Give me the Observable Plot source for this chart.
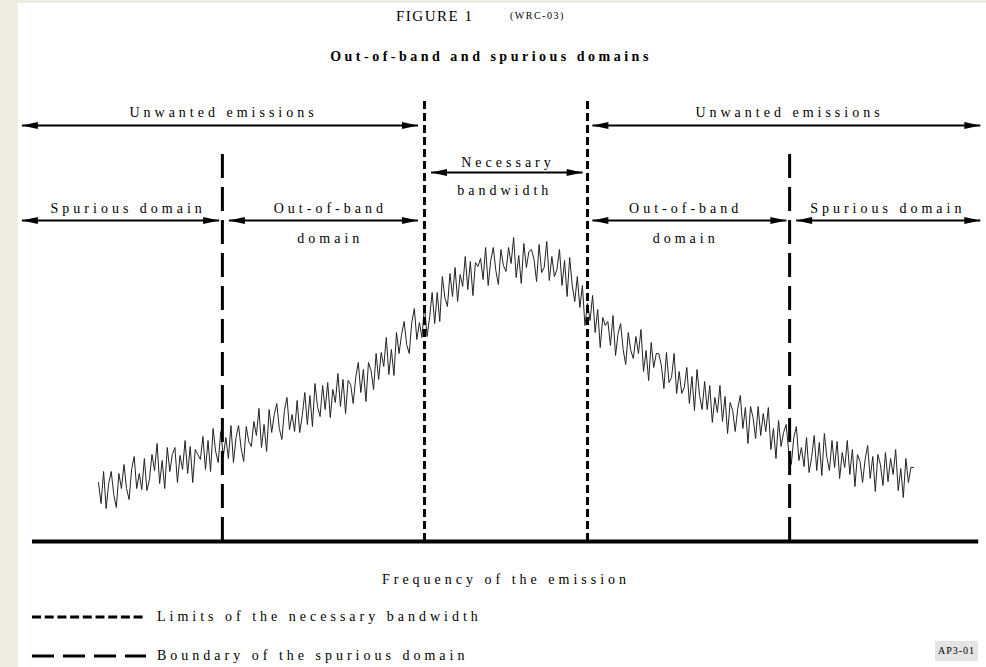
<!DOCTYPE html>
<html>
<head>
<meta charset="utf-8">
<script src="https://cdn.jsdelivr.net/npm/d3@7"></script>
<script src="https://cdn.jsdelivr.net/npm/@observablehq/plot@0.6"></script>
<style>
  html, body { margin: 0; padding: 0; }
  body { width: 986px; height: 667px; overflow: hidden; position: relative; background: #efece1;
         font-family: "Liberation Serif", "Times New Roman", serif; color: #000; }
  #panel { position: absolute; left: 18px; top: 3px; width: 968px; height: 664px; background: #fff; }
  .t { position: absolute; white-space: nowrap; line-height: 1; }
  #chart { position: absolute; left: 18px; top: 85px; }
  #chart svg text { letter-spacing: 4px; }
  .sw { position: absolute; left: 30px; }
  #code { position: absolute; left: 935px; top: 641px; width: 43px; height: 20px; background: #e4e4e4;
          font-size: 10px; letter-spacing: 1px; line-height: 20px; text-align: center; }
</style>
</head>
<body>
<div id="panel"></div>
<div class="t" id="fig" style="left:396px; top:9px; font-size:15px; letter-spacing:1.5px;"></div>
<div class="t" id="wrc" style="left:510px; top:11px; font-size:10px; letter-spacing:1.5px;"></div>
<div class="t" id="sub" style="left:491px; top:50px; transform:translateX(-50%); font-size:14px; font-weight:bold; letter-spacing:3.5px;"></div>
<div id="chart"></div>
<div class="t" id="xlabel" style="left:506px; top:573px; transform:translateX(-50%); font-size:14px; letter-spacing:4px;"></div>
<svg class="sw" style="top:610px" width="130" height="14"><line x1="2" x2="116" y1="7" y2="7" stroke="#000" stroke-width="3" stroke-dasharray="9,3.7"/></svg>
<svg class="sw" style="top:649px" width="130" height="14"><line x1="2" x2="116" y1="7" y2="7" stroke="#000" stroke-width="3" stroke-dasharray="22,9"/></svg>
<div class="t" id="leg1" style="left:157px; top:610px; font-size:14px; letter-spacing:4px;"></div>
<div class="t" id="leg2" style="left:157px; top:649px; font-size:14px; letter-spacing:4px;"></div>
<div id="code"></div>
<script>
// ---- texts ----
const figureTitle = "FIGURE 1";
const figureRef = "(WRC-03)";
const subtitle = "Out-of-band and spurious domains";
const xAxisLabel = "Frequency of the emission";
const legendLabels = ["Limits of the necessary bandwidth", "Boundary of the spurious domain"];
const figureCode = "AP3-01";

// ---- frequency axis: offset from centre, in units of the necessary bandwidth ----
const necessaryLimits = [-0.5, 0.5];
const spuriousBoundaries = [-1.74, 1.74];
const necessaryTop = 443;   // level reached by the necessary-bandwidth limit lines
const spuriousTop = 391;    // level reached by the spurious-boundary lines

// ---- domain arrows ----
const arrowFrom  = [-2.97, 0.53, -0.46, -2.97, -1.70, 0.53, 1.78];
const arrowTo    = [-0.54, 2.91, 0.47, -1.76, -0.54, 1.72, 2.91];
const arrowLevel = [416, 416, 369, 321, 321, 321, 321];

// ---- domain labels ----
const labelText  = ["Unwanted emissions", "Unwanted emissions", "Necessary", "bandwidth",
                    "Spurious domain", "Out-of-band", "domain", "Out-of-band", "domain", "Spurious domain"];
const labelFreq  = [-1.745, 1.727, 0, -0.02, -2.33, -1.09, -1.09, 1.09, 1.09, 2.33];
const labelLevel = [429, 429, 379, 351, 333, 333, 303, 333, 303, 333];

const signalStart = -2.5;
const signalStep = 0.015625;
const signalLevel = [
  59, 38, 70, 33, 58, 70, 47, 34, 68, 53,
  77, 53, 42, 72, 85, 53, 68, 52, 83, 51,
  62, 87, 71, 98, 58, 81, 53, 94, 70, 87,
  94, 59, 86, 72, 101, 68, 95, 59, 92, 87,
  82, 105, 72, 101, 70, 113, 90, 79, 110, 85,
  104, 83, 116, 79, 104, 116, 93, 80, 115, 100,
  95, 120, 106, 133, 94, 117, 90, 132, 109, 127,
  138, 113, 102, 131, 144, 112, 127, 110, 141, 109,
  126, 149, 117, 146, 115, 158, 135, 125, 156, 132,
  159, 124, 152, 139, 168, 135, 162, 128, 161, 157,
  138, 164, 179, 149, 172, 140, 179, 171, 152, 188,
  162, 189, 175, 204, 167, 192, 166, 209, 188, 207,
  220, 197, 188, 219, 233, 202, 219, 204, 236, 205,
  224, 249, 218, 249, 220, 265, 244, 235, 268, 245,
  274, 240, 267, 255, 285, 252, 280, 246, 279, 275,
  283, 262, 294, 256, 281, 294, 271, 257, 292, 276,
  270, 294, 278, 304, 264, 286, 258, 298, 274, 290,
  292, 282, 260, 297, 269, 274, 300, 261, 285, 265,
  272, 292, 256, 281, 245, 284, 256, 240, 265, 234,
  256, 216, 238, 221, 246, 209, 232, 194, 224, 216,
  220, 196, 226, 186, 208, 218, 192, 177, 209, 191,
  183, 205, 188, 212, 170, 191, 161, 199, 174, 188,
  188, 176, 153, 189, 159, 164, 188, 148, 170, 148,
  154, 174, 138, 165, 131, 172, 146, 132, 160, 132,
  156, 119, 144, 129, 156, 120, 145, 108, 139, 131,
  110, 133, 146, 113, 134, 98, 135, 124, 103, 135,
  106, 128, 110, 134, 92, 113, 83, 121, 95, 109,
  117, 90, 77, 104, 115, 81, 94, 75, 104, 69,
  84, 106, 71, 99, 66, 108, 84, 71, 101, 74,
  100, 63, 89, 74, 101, 67, 92, 55, 87, 80,
  59, 82, 96, 63, 85, 50, 87, 77, 56, 89,
  60, 83, 67, 92, 51, 73, 44, 83, 59, 74,
  74
];

// ---- build tables ----
const signal = signalLevel.map((level, i) => ({freq: signalStart + i * signalStep, level}));
const arrows = arrowFrom.map((x1, i) => ({x1, x2: arrowTo[i], level: arrowLevel[i]}));
const labels = labelText.map((text, i) => ({text, freq: labelFreq[i], level: labelLevel[i]}));

const arrowHead = {
  draw(context) {
    context.moveTo(0, 0);
    context.lineTo(-16, -3.5);
    context.lineTo(-16, 3.5);
    context.closePath();
  }
};

const font = "Liberation Serif, Times New Roman, serif";

const chart = Plot.plot({
  width: 968,
  height: 470,
  marginTop: 0, marginRight: 0, marginBottom: 0, marginLeft: 0,
  x: {domain: [-3, 3], range: [-1.5, 976.5], axis: null},
  y: {domain: [0, 456], range: [456, 0], axis: null},
  style: {background: "transparent", overflow: "visible"},
  marks: [
    Plot.line(signal, {x: "freq", y: "level", stroke: "#222", strokeWidth: 1}),
    Plot.ruleX(necessaryLimits, {y1: 0, y2: necessaryTop, stroke: "#000", strokeWidth: 3, strokeDasharray: "8,4"}),
    Plot.ruleX(spuriousBoundaries, {y1: 0, y2: spuriousTop, stroke: "#000", strokeWidth: 3, strokeDasharray: "24,9"}),
    Plot.ruleY([0], {x1: -2.905, x2: 2.9, stroke: "#000", strokeWidth: 4}),
    Plot.link(arrows, {x1: "x1", x2: "x2", y1: "level", y2: "level", stroke: "#000", strokeWidth: 2}),
    Plot.dot(arrows, {x: "x2", y: "level", symbol: arrowHead, fill: "#000", stroke: null}),
    Plot.dot(arrows, {x: "x1", y: "level", symbol: arrowHead, rotate: 180, fill: "#000", stroke: null}),
    Plot.text(labels, {x: "freq", y: "level", text: "text", fontSize: 14, fontFamily: font, fill: "#000", dx: 2})
  ]
});
document.getElementById("chart").appendChild(chart);

document.getElementById("fig").textContent = figureTitle;
document.getElementById("wrc").textContent = figureRef;
document.getElementById("sub").textContent = subtitle;
document.getElementById("xlabel").textContent = xAxisLabel;
document.getElementById("leg1").textContent = legendLabels[0];
document.getElementById("leg2").textContent = legendLabels[1];
document.getElementById("code").textContent = figureCode;
</script>
</body>
</html>
